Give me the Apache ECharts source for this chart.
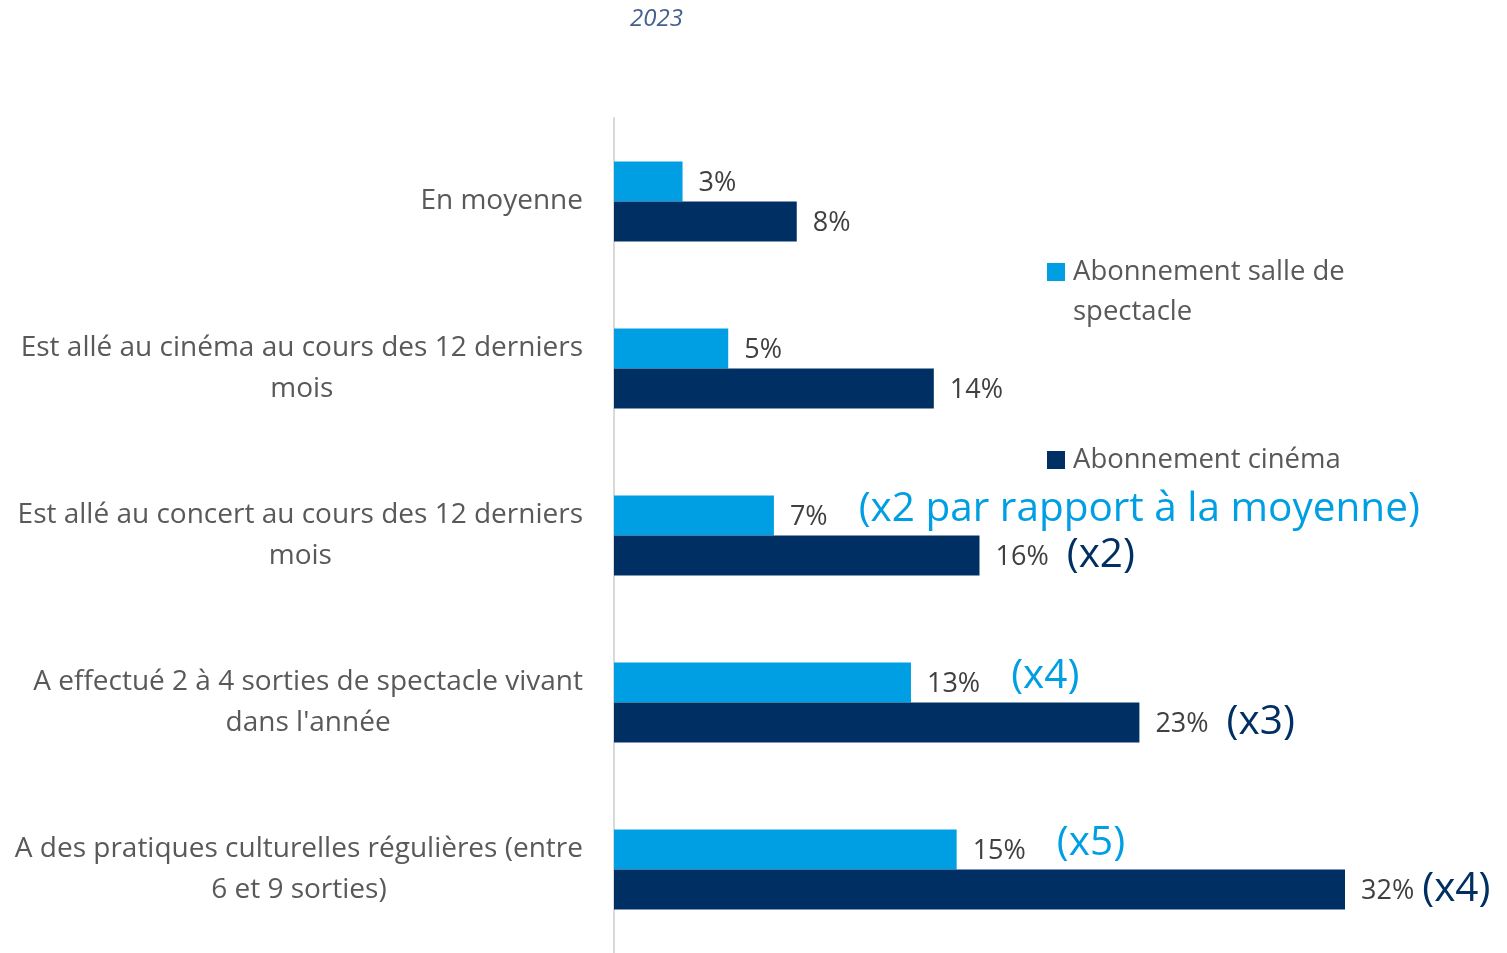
<!DOCTYPE html>
<html lang="fr">
<head>
<meta charset="utf-8">
<title>2023</title>
<script src="https://cdn.jsdelivr.net/npm/echarts@6/dist/echarts.min.js"></script>
<style>
  html, body { margin: 0; padding: 0; background: #ffffff; }
  #chart { width: 1507px; height: 953px; }
</style>
</head>
<body>
<div id="chart"></div>
<script>
// Categories (line breaks are where the label wraps)
const categories = [
  'En moyenne',
  'Est allé au cinéma au cours des 12 derniers\nmois',
  'Est allé au concert au cours des 12 derniers\nmois',
  'A effectué 2 à 4 sorties de spectacle vivant\ndans l\'année',
  'A des pratiques culturelles régulières (entre\n6 et 9 sorties)'
];

// Share of respondents holding each subscription, in %
const salleSpectacle = [3, 5, 7, 13, 15];
const cinema = [8, 14, 16, 23, 32];

// Multiplier notes shown after the value labels
const salleNotes = ['', '', '(x2 par rapport à la moyenne)', '(x4)', '(x5)'];
const cinemaNotes = ['', '', '(x2)', '(x3)', '(x4)'];

const seriesNames = ['Abonnement salle de\nspectacle', 'Abonnement cinéma'];

const LIGHT = '#009fe3';
const DARK = '#003063';
const FONT = 'Open Sans';

const chart = echarts.init(document.getElementById('chart'));

function valueLabel(notes, noteStyle) {
  return function (p) {
    const note = notes[p.dataIndex];
    let s = '{v|' + p.value + '%}';
    if (note) {
      const st = (noteStyle === 'd' && p.dataIndex === notes.length - 1) ? 'n' : noteStyle;
      s += '{' + st + '|' + note + '}';
    }
    return s;
  };
}

const richCommon = {
  v: { fontFamily: FONT, fontSize: 27, color: '#404040', padding: [3, 0, 0, 0] }
};

// Legend text: an empty leading line keeps the icon level with the first text line
function legendText(name) {
  const lines = name.split('\n');
  const body = lines.map(function (l) { return '{t|' + l + '}'; }).join('\n');
  return lines.length > 1 ? '{e| }\n' + body : body;
}

chart.setOption({
  animation: false,
  title: {
    text: '2023',
    left: 625,
    top: 2,
    textStyle: { fontFamily: FONT, fontStyle: 'italic', fontWeight: 'normal', fontSize: 24, color: '#44608c' }
  },
  legend: {
    orient: 'vertical',
    left: 1047,
    top: 227,
    padding: 0,
    itemWidth: 18,
    itemHeight: 18,
    itemGap: 120,
    icon: 'rect',
    formatter: legendText,
    textStyle: {
      rich: {
        t: { fontFamily: FONT, fontSize: 27.5, color: '#595959', lineHeight: 40, padding: [0, 0, 0, 3] },
        e: { fontSize: 10, lineHeight: 40 }
      }
    },
    data: seriesNames
  },
  grid: { left: 614, right: 162, top: 118, bottom: 0, containLabel: false },
  xAxis: {
    type: 'value',
    min: 0,
    max: 32,
    show: false
  },
  yAxis: {
    type: 'category',
    data: categories,
    inverse: true,
    axisLine: { show: true, lineStyle: { color: '#d9d9d9', width: 2 } },
    axisTick: { show: false },
    axisLabel: {
      margin: 31,
      align: 'right',
      formatter: function (v) {
        return v.split('\n').map(function (l) { return '{c|' + l + '}'; }).join('\n');
      },
      rich: {
        c: { fontFamily: FONT, fontSize: 28, color: '#595959', lineHeight: 41, align: 'center' }
      }
    }
  },
  series: [
    {
      name: seriesNames[0],
      type: 'bar',
      data: salleSpectacle,
      barWidth: 40,
      barGap: '0%',
      itemStyle: { color: LIGHT },
      label: {
        show: true,
        position: 'right',
        distance: 16,
        formatter: valueLabel(salleNotes, 'a'),
        rich: Object.assign({
          a: { fontFamily: FONT, fontSize: 40.5, color: LIGHT, padding: [0, 0, 12, 31] }
        }, richCommon)
      }
    },
    {
      name: seriesNames[1],
      type: 'bar',
      data: cinema,
      barWidth: 40,
      itemStyle: { color: DARK },
      label: {
        show: true,
        position: 'right',
        distance: 16,
        formatter: valueLabel(cinemaNotes, 'd'),
        rich: Object.assign({
          d: { fontFamily: FONT, fontSize: 40.5, color: DARK, padding: [0, 0, 0, 18] },
          n: { fontFamily: FONT, fontSize: 40.5, color: DARK, padding: [0, 0, 0, 8] }
        }, richCommon)
      }
    }
  ]
});
</script>
</body>
</html>
